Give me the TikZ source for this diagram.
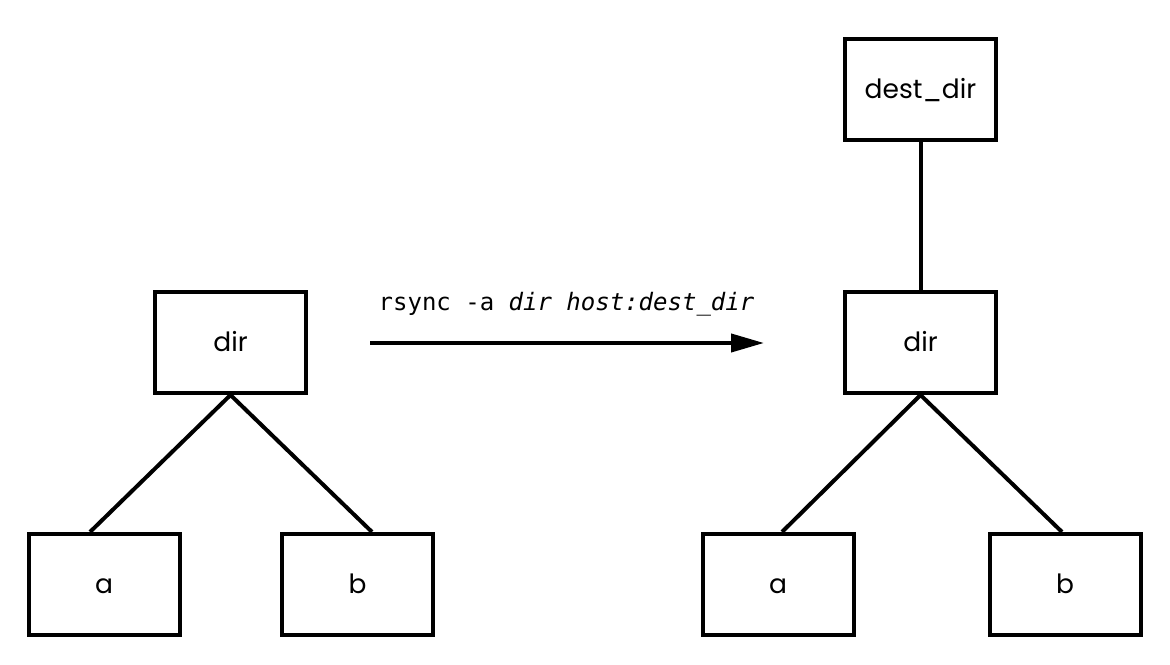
\documentclass[tikz,border=0pt]{standalone}
\usepackage{fontspec}
\setmainfont{Poppins}
\newfontfamily\codefont{DejaVu Sans Mono}
\usetikzlibrary{arrows.meta,calc}
\tikzset{
  dirbox/.style={draw=black, line width=4pt, minimum width=151pt, minimum height=101pt, inner sep=0pt, text height=24pt, text depth=5pt, font=\fontsize{26.5pt}{30pt}\selectfont},
  link/.style={line width=4pt},
  cmdarrow/.style={line width=4pt, -{Triangle[length=33pt,width=18pt]}}
}
\begin{document}
\begin{tikzpicture}[x=1pt,y=1pt]
\useasboundingbox (0,0) rectangle (1170,664);
% left tree
\node[dirbox] (ldir) at (230.5,321.5) {dir};
\node[dirbox] (la) at (104,79.5) {a};
\node[dirbox] (lb) at (357.5,79.5) {b};
\coordinate (latop) at ($(la.north)+(-14pt,0)$);
\coordinate (lbtop) at ($(lb.north)+(14.5pt,0)$);
\draw[link] (ldir.south) -- (latop);
\draw[link] (ldir.south) -- (lbtop);
% right tree
\node[dirbox] (rdest) at (920.5,574.5) {dest\_dir};
\node[dirbox] (rdir) at (920.5,321.5) {dir};
\node[dirbox] (ra) at (778,79.5) {a};
\node[dirbox] (rb) at (1065,79.5) {b};
\coordinate (ratop) at ($(ra.north)+(4pt,0)$);
\coordinate (rbtop) at ($(rb.north)+(-3pt,0)$);
\draw[link] (rdest.south) -- (rdir.north);
\draw[link] (rdir.south) -- (ratop);
\draw[link] (rdir.south) -- (rbtop);
% arrow
\coordinate (arrs) at (370,321);
\coordinate (arre) at (764,321);
\draw[cmdarrow] (arrs) -- (arre);
\node[anchor=base, font=\codefont\fontsize{24pt}{28pt}\selectfont, inner sep=0pt] (cmd) at (566.5,353) {rsync -a \textit{dir host:dest\_dir}};
\end{tikzpicture}
\end{document}
